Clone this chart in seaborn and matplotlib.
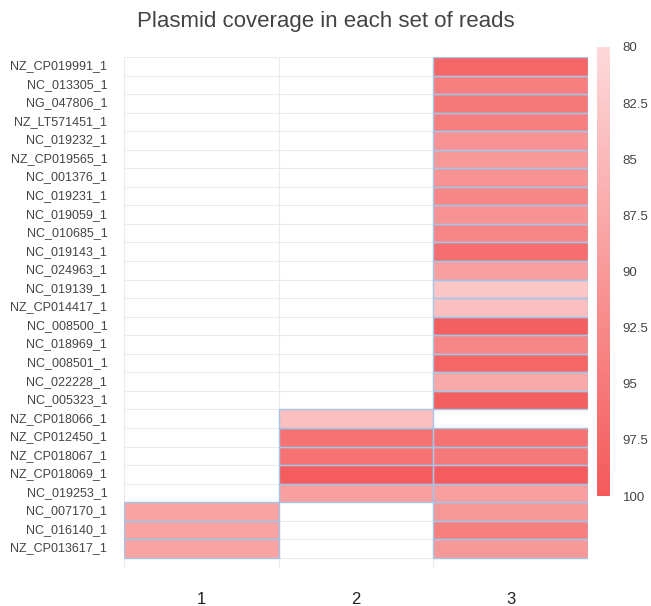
import matplotlib
matplotlib.use("Agg")
import matplotlib.pyplot as plt
from matplotlib.colors import LinearSegmentedColormap
from matplotlib.patches import Rectangle
import pandas as pd
import numpy as np
import seaborn as sns

plt.rcParams['font.family'] = ['Liberation Sans', 'DejaVu Sans']

# Plasmid ids (top to bottom) and coverage for each read set
plasmids = ['NZ_CP019991_1', 'NC_013305_1', 'NG_047806_1', 'NZ_LT571451_1', 'NC_019232_1',
            'NZ_CP019565_1', 'NC_001376_1', 'NC_019231_1', 'NC_019059_1', 'NC_010685_1',
            'NC_019143_1', 'NC_024963_1', 'NC_019139_1', 'NZ_CP014417_1', 'NC_008500_1',
            'NC_018969_1', 'NC_008501_1', 'NC_022228_1', 'NC_005323_1', 'NZ_CP018066_1',
            'NZ_CP012450_1', 'NZ_CP018067_1', 'NZ_CP018069_1', 'NC_019253_1', 'NC_007170_1',
            'NC_016140_1', 'NZ_CP013617_1']
read_sets = ['1', '2', '3']

nan = np.nan
set1 = [nan] * 24 + [88.5, 88.5, 88.5]
set2 = [nan] * 19 + [84, 96, 96, 99.5, 89] + [nan] * 3
set3 = [98, 94, 95, 94, 91, 90, 91, 93, 91, 93, 96.5, 89, 83, 84, 99, 93, 98, 87.5, 99,
        nan, 96, 95, 99.5, 89, 90, 94, 90]

df = pd.DataFrame({'1': set1, '2': set2, '3': set3}, index=plasmids)

cmap = LinearSegmentedColormap.from_list('pinkred', ['#fdd9d9', '#f4595a'])

fig = plt.figure(figsize=(6.51, 6.06), dpi=100)
ax = fig.add_axes([0.1905, 0.0627, 0.7127, 0.8433])
cax = fig.add_axes([0.917, 0.1815, 0.02, 0.741])

# grid lines behind the cells
for i in range(len(plasmids) + 1):
    ax.axhline(i, color='#ebebeb', lw=0.8, zorder=0)
for j in range(len(read_sets) + 1):
    ax.axvline(j, color='#ebebeb', lw=0.8, zorder=0)

sns.heatmap(df, ax=ax, cbar_ax=cax, cmap=cmap, vmin=80, vmax=100)

# outline only the cells that hold a value
for i in range(df.shape[0]):
    for j in range(df.shape[1]):
        if not np.isnan(df.iat[i, j]):
            ax.add_patch(Rectangle((j, i), 1, 1, fill=False, edgecolor='#a3c5e8',
                                   lw=1.0, zorder=3))

ax.set_ylim(len(plasmids) + 0.55, 0)
ax.set_xlim(0, 3)
ax.set_facecolor('none')

ax.set_yticks(np.arange(len(plasmids)) + 0.5)
ax.set_yticklabels(plasmids, fontsize=9, color='#444444', rotation=0)
ax.set_xticks(np.arange(3) + 0.5)
ax.set_xticklabels(read_sets, fontsize=12, color='#222222')
ax.tick_params(axis='both', length=0)
ax.tick_params(axis='x', pad=17)
ax.tick_params(axis='y', pad=12)
ax.set_xlabel('')
ax.set_ylabel('')
for s in ax.spines.values():
    s.set_visible(False)

cbar = ax.collections[0].colorbar
cbar.outline.set_visible(False)
cax.invert_yaxis()
cbar.set_ticks([80, 82.5, 85, 87.5, 90, 92.5, 95, 97.5, 100])
cbar.set_ticklabels(['80', '82.5', '85', '87.5', '90', '92.5', '95', '97.5', '100'])
cax.tick_params(length=0, labelsize=9.5, labelcolor='#444444', pad=9)

fig.suptitle('Plasmid coverage in each set of reads', x=0.5, y=0.982,
             fontsize=16, color='#444444')

fig.savefig('out.png', dpi=100)
